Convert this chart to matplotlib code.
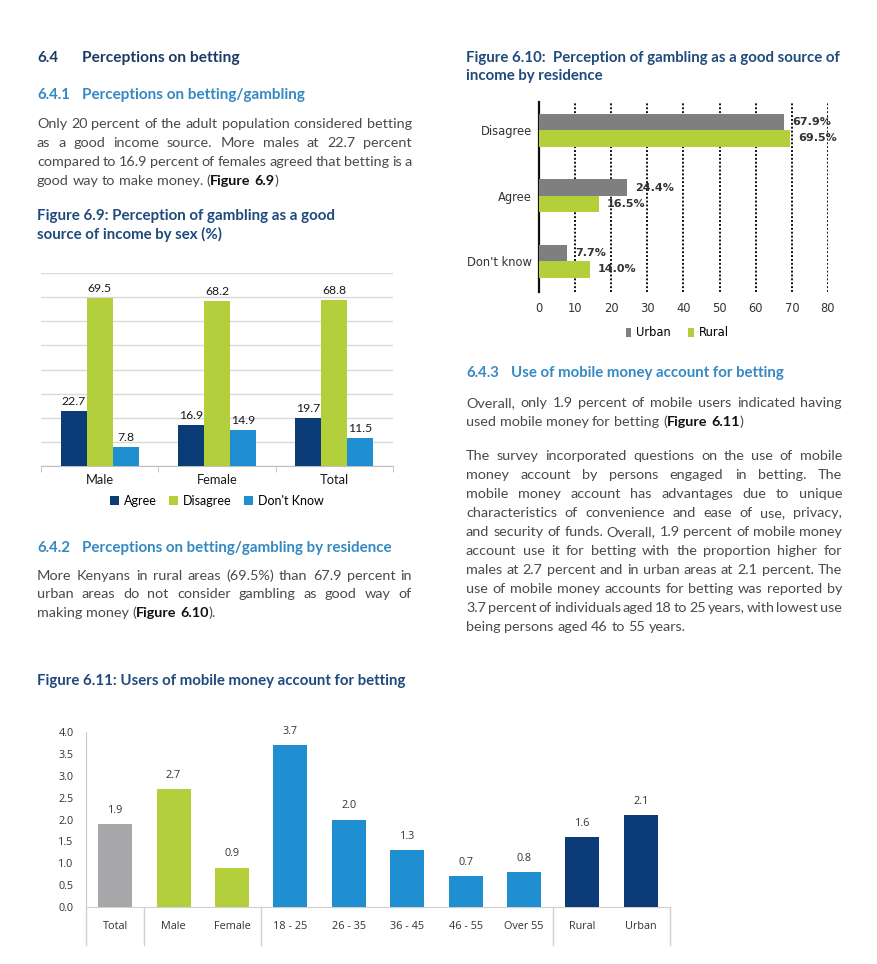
import matplotlib
matplotlib.use('Agg')
import matplotlib.pyplot as plt
import matplotlib.transforms as mtransforms
import numpy as np

# Figure 6.9 - perception by sex (%)
sex_cats = ['Male', 'Female', 'Total']
sex_agree = [22.7, 16.9, 19.7]
sex_disagree = [69.5, 68.2, 68.8]
sex_dont_know = [7.8, 14.9, 11.5]

# Figure 6.10 - perception by residence (%)
res_cats = ['Disagree', 'Agree', "Don't know"]
res_urban = [67.9, 24.4, 7.7]
res_rural = [69.5, 16.5, 14.0]
res_ticks = [0, 10, 20, 30, 40, 50, 60, 70, 80]

# Figure 6.11 - users of mobile money account for betting
mm_cats = ['Total', 'Male', 'Female', '18 - 25', '26 - 35', '36 - 45',
           '46 - 55', 'Over 55', 'Rural', 'Urban']
mm_vals = [1.9, 2.7, 0.9, 3.7, 2.0, 1.3, 0.7, 0.8, 1.6, 2.1]
mm_groups = ['all', 'sex', 'sex', 'age', 'age', 'age', 'age', 'age', 'res', 'res']

# colours
NAVY = '#0c3c78'
LIME = '#b3cf3c'
BLUE = '#1f8fd1'
GREY_U = '#7f7f7f'
GREY_T = '#a7a7a9'
HEAD_DARK = '#1b3a66'
HEAD_BLUE = '#3589c3'
TITLE = '#1f4a7c'
BODY = '#4a4a4a'
group_colors = {'all': GREY_T, 'sex': LIME, 'age': BLUE, 'res': NAVY}

BODY_FONT = 'Lato'
BODY_SIZE = 10.4

W, H = 878, 964
fig = plt.figure(figsize=(W / 100, H / 100), dpi=100)
fig.patch.set_facecolor('white')
renderer = fig.canvas.get_renderer()


def fx(px):
    return px / W


def fy(py):
    return 1 - py / H


def text_width(s, **kw):
    t = fig.text(0, 0, s, **kw)
    w = t.get_window_extent(renderer).width
    t.remove()
    return w


def fit_text(x, yb, s, target_w, color, family=BODY_FONT, weight='bold'):
    # scale the font so the text spans the measured width
    w = text_width(s, fontsize=10, family=family, weight=weight)
    size = 10 * target_w / w
    fig.text(fx(x), fy(yb), s, fontsize=size, family=family, weight=weight,
             color=color, ha='left', va='baseline')


def split_words(line, state):
    # '*' toggles bold
    words = []
    for tok in line.split(' '):
        segs = []
        for i, p in enumerate(tok.split('*')):
            if i > 0:
                state[0] = not state[0]
            if p:
                segs.append((p, state[0]))
        words.append(segs)
    return words


def seg_kw(b, size):
    return dict(fontsize=size, family=BODY_FONT,
                weight='bold' if b else 'normal',
                color='#111111' if b else BODY)


def paragraph(x0, x1, y0, lines, step=19):
    state = [False]
    target = x1 - x0
    for k, line in enumerate(lines):
        words = split_words(line, state)
        last = k == len(lines) - 1
        size = BODY_SIZE
        while True:
            widths = [[text_width(p, **seg_kw(b, size)) for p, b in segs] for segs in words]
            total = sum(sum(w) for w in widths)
            space = text_width('a a', **seg_kw(False, size)) - text_width('aa', **seg_kw(False, size))
            # tight lines may squeeze the word gaps a little before the font shrinks
            if last or total + 0.45 * space * (len(words) - 1) <= target or size < 8:
                break
            size -= 0.1
        gap = space if last or len(words) < 2 else (target - total) / (len(words) - 1)
        x = x0
        yb = y0 + k * step
        for segs, ws in zip(words, widths):
            for (p, b), w in zip(segs, ws):
                fig.text(fx(x), fy(yb), p, ha='left', va='baseline', **seg_kw(b, size))
                x += w
            x += gap


# ---------------- left column text ----------------
fit_text(37, 62, '6.4', 21, HEAD_DARK)
fit_text(82, 62, 'Perceptions on betting', 157, HEAD_DARK)
fit_text(37, 99, '6.4.1', 33, HEAD_BLUE)
fit_text(82, 99, 'Perceptions on betting/gambling', 223, HEAD_BLUE)
paragraph(37, 412, 128, [
    'Only 20 percent of the adult population considered betting',
    'as a good income source. More males at 22.7 percent',
    'compared to 16.9 percent of females agreed that betting is a',
    'good way to make money. (*Figure 6.9*)',
])
fit_text(37, 220, 'Figure 6.9: Perception of gambling as a good', 298, TITLE)
fit_text(37, 239, 'source of income by sex (%)', 185, TITLE)

fit_text(37, 552, '6.4.2', 33, HEAD_BLUE)
fit_text(82, 552, 'Perceptions on betting/gambling by residence', 311, HEAD_BLUE)
paragraph(37, 412, 580, [
    'More Kenyans in rural areas (69.5%) than 67.9 percent in',
    'urban areas do not consider gambling as good way of',
    'making money (*Figure 6.10*).',
], step=18.5)
fit_text(37, 685, 'Figure 6.11: Users of mobile money account for betting', 369, TITLE)

# ---------------- right column text ----------------
fit_text(466, 62, 'Figure 6.10:  Perception of gambling as a good source of', 375, TITLE)
fit_text(466, 80, 'income by residence', 138, TITLE)
fit_text(466, 377, '6.4.3', 33, HEAD_BLUE)
fit_text(511, 377, 'Use of mobile money account for betting', 274, HEAD_BLUE)
paragraph(466, 842, 407, [
    'Overall, only 1.9 percent of mobile users indicated having',
    'used mobile money for betting (*Figure 6.11*)',
], step=18.5)
paragraph(466, 842, 460, [
    'The survey incorporated questions on the use of mobile',
    'money account by persons engaged in betting. The',
    'mobile money account has advantages due to unique',
    'characteristics of convenience and ease of use, privacy,',
    'and security of funds. Overall, 1.9 percent of mobile money',
    'account use it for betting with the proportion higher for',
    'males at 2.7 percent and in urban areas at 2.1 percent. The',
    'use of mobile money accounts for betting was reported by',
    '3.7 percent of individuals aged 18 to 25 years, with lowest use',
    'being persons aged 46 to 55 years.',
], step=19)

# ---------------- Figure 6.9 ----------------
ax1 = fig.add_axes([fx(41), fy(466), (393 - 41) / W, (466 - 273) / H])
x = np.arange(len(sex_cats))
bw = 0.222
for off, vals, col, lab in [(-bw, sex_agree, NAVY, 'Agree'),
                            (0, sex_disagree, LIME, 'Disagree'),
                            (bw, sex_dont_know, BLUE, "Don't Know")]:
    ax1.bar(x + off, vals, bw, color=col, label=lab, zorder=3)
    for xi, v in zip(x, vals):
        ax1.annotate(f'{v}', (xi + off, v), xytext=(0, 3), textcoords='offset points',
                     ha='center', va='bottom', fontsize=8.8, family='Lato', color='#1a1a1a')
ax1.set_xlim(-0.5, 2.5)
ax1.set_ylim(0, 80)
ax1.set_yticks(range(0, 81, 10))
ax1.yaxis.grid(True, color='#d9d9d9', linewidth=1)
ax1.set_axisbelow(True)
ax1.tick_params(axis='y', length=0, labelleft=False)
ax1.set_xticks(x)
ax1.set_xticklabels(sex_cats, fontsize=9.3, family='Lato', color='#1a1a1a')
ax1.set_xticks([-0.5, 0.5, 1.5, 2.5], minor=True)
ax1.tick_params(axis='x', which='major', length=0, pad=6)
ax1.tick_params(axis='x', which='minor', length=4, color='#bfbfbf')
for s in ['left', 'right', 'top']:
    ax1.spines[s].set_visible(False)
ax1.spines['bottom'].set_color('#bfbfbf')
h1, l1 = ax1.get_legend_handles_labels()
fig.legend(h1, l1, loc='center', bbox_to_anchor=(fx(217), fy(501)), ncol=3,
           frameon=False, handlelength=0.7, handleheight=0.7, handletextpad=0.4,
           columnspacing=1.0, prop={'family': 'Lato', 'size': 9})

# ---------------- Figure 6.10 ----------------
ax2 = fig.add_axes([fx(539), fy(292), (828 - 539) / W, (292 - 102) / H])
ypos = np.arange(len(res_cats))[::-1]
bh = 0.25
ax2.barh(ypos + bh / 2, res_urban, bh, color=GREY_U, label='Urban', zorder=3)
ax2.barh(ypos - bh / 2, res_rural, bh, color=LIME, label='Rural', zorder=3)
for yi, v in zip(ypos, res_urban):
    ax2.text(v + 2.2, yi + bh / 2, f'{v:.1f}%', va='center', ha='left', weight='bold',
             fontsize=8, color='#333333', family='DejaVu Sans', zorder=4)
for yi, v in zip(ypos, res_rural):
    ax2.text(v + 2.2, yi - bh / 2, f'{v:.1f}%', va='center', ha='left', weight='bold',
             fontsize=8, color='#333333', family='DejaVu Sans', zorder=4)
ax2.set_xlim(0, 80)
ax2.set_ylim(-0.47, 2.43)
ax2.set_xticks(res_ticks)
ax2.xaxis.grid(True, color='#111111', linestyle=(0, (1, 1)), linewidth=1.4)
ax2.set_axisbelow(True)
ax2.set_yticks(ypos)
ax2.set_yticklabels(res_cats)
ax2.tick_params(axis='both', length=0, labelsize=8.3, labelcolor='#333333')
ax2.tick_params(axis='y', pad=5)
ax2.tick_params(axis='x', pad=7)
for lab in ax2.get_xticklabels() + ax2.get_yticklabels():
    lab.set_family('DejaVu Sans')
for s in ['right', 'top', 'bottom']:
    ax2.spines[s].set_visible(False)
ax2.spines['left'].set_color('#111111')
ax2.spines['left'].set_linewidth(1.6)
h2, l2 = ax2.get_legend_handles_labels()
fig.legend(h2, l2, loc='center', bbox_to_anchor=(fx(677), fy(333)), ncol=2,
           frameon=False, handlelength=0.5, handleheight=0.7, handletextpad=0.4,
           columnspacing=1.5, prop={'family': 'DejaVu Sans', 'size': 8.3})

# ---------------- Figure 6.11 ----------------
ax3 = fig.add_axes([fx(86), fy(907), (670 - 86) / W, (907 - 732) / H])
xm = np.arange(len(mm_cats))
ax3.bar(xm, mm_vals, 0.58, color=[group_colors[g] for g in mm_groups], zorder=3)
for xi, v in zip(xm, mm_vals):
    ax3.annotate(f'{v:.1f}', (xi, v), xytext=(0, 6), textcoords='offset points',
                 ha='center', va='bottom', fontsize=7.8, family='Open Sans',
                 color='#333333')
ax3.set_xlim(-0.5, len(mm_cats) - 0.5)
ax3.set_ylim(0, 4.0)
ax3.set_yticks(np.arange(0, 4.01, 0.5))
ax3.set_yticklabels([f'{t:.1f}' for t in np.arange(0, 4.01, 0.5)])
ax3.set_xticks(xm)
ax3.set_xticklabels(mm_cats)
ax3.tick_params(axis='both', length=0, labelsize=7.8, labelcolor='#333333')
ax3.tick_params(axis='x', pad=10)
ax3.tick_params(axis='y', pad=9)
for lab in ax3.get_xticklabels() + ax3.get_yticklabels():
    lab.set_family('Open Sans')
for s in ['right', 'top']:
    ax3.spines[s].set_visible(False)
ax3.spines['left'].set_color('#c8c8c8')
ax3.spines['bottom'].set_color('#d0d0d0')
trans = mtransforms.blended_transform_factory(ax3.transData, ax3.transAxes)
for b in [-0.5, 0.5, 2.5, 7.5, 9.5]:
    ax3.plot([b, b], [0, -(945 - 907) / 175], transform=trans, color='#d0d0d0',
             linewidth=1, clip_on=False)

fig.savefig('out.png', dpi=100, facecolor='white')
